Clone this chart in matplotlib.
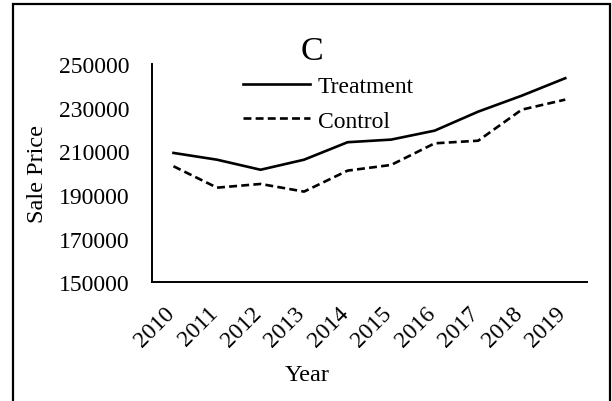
import matplotlib
matplotlib.use('Agg')
import matplotlib.pyplot as plt
from matplotlib.patches import Rectangle
from matplotlib.transforms import ScaledTranslation

plt.rcParams['font.family'] = ['Liberation Serif', 'DejaVu Serif']

years = ['2010', '2011', '2012', '2013', '2014', '2015', '2016', '2017', '2018', '2019']
treatment = [209300, 206200, 201600, 206200, 214200, 215400, 219500, 228200, 235500, 243500]
control = [203200, 193400, 195100, 191600, 201200, 203800, 213700, 214900, 229100, 233700]
yticks = [150000, 170000, 190000, 210000, 230000, 250000]

fig = plt.figure(figsize=(6.12, 4.02), dpi=100)
ax = fig.add_axes([0.2479, 0.2948, 0.7113, 0.5435])

x = range(len(years))
ax.plot(x, treatment, color='black', lw=1.9, label='Treatment')
ax.plot(x, control, color='black', lw=1.9, dashes=(3.0, 1.6), label='Control')

ax.set_xlim(-0.5, len(years) - 0.5)
ax.set_ylim(150000, 250000)
ax.set_yticks(yticks)
ax.set_yticklabels([str(v) for v in yticks])
ax.set_xticks(list(x))
ax.set_xticklabels(years, rotation=45, ha='right')
ax.tick_params(axis='both', length=0, labelsize=17)
ax.tick_params(axis='x', pad=14)
ax.tick_params(axis='y', pad=16)

# nudge the rotated year labels a little to the right
shift = ScaledTranslation(0.05, 0, fig.dpi_scale_trans)
for lab in ax.get_xticklabels():
    lab.set_transform(lab.get_transform() + shift)

for s in ['top', 'right']:
    ax.spines[s].set_visible(False)
for s in ['left', 'bottom']:
    ax.spines[s].set_linewidth(1.4)

ax.set_ylabel('Sale Price', fontsize=17.5)
ax.yaxis.set_label_coords(-0.238, 0.5)
ax.set_xlabel('Year', fontsize=17.5)
ax.xaxis.set_label_coords(0.357, -0.372)

fig.text(311.5 / 612, 1 - 59.5 / 402, 'C', ha='center', va='baseline', fontsize=24.5)

ax.legend(loc='center left', bbox_to_anchor=(0.3966, 0.740), bbox_transform=fig.transFigure,
          frameon=False, fontsize=17, borderpad=0, borderaxespad=0,
          handlelength=2.85, handletextpad=0.33, labelspacing=0.55)

fig.patches.append(Rectangle((12.7 / 612, -0.2), (610 - 12.7) / 612, 1.2 - 5.3 / 402,
                             transform=fig.transFigure, fill=False, ec='black', lw=1.6))

fig.savefig('out.png', dpi=100)
